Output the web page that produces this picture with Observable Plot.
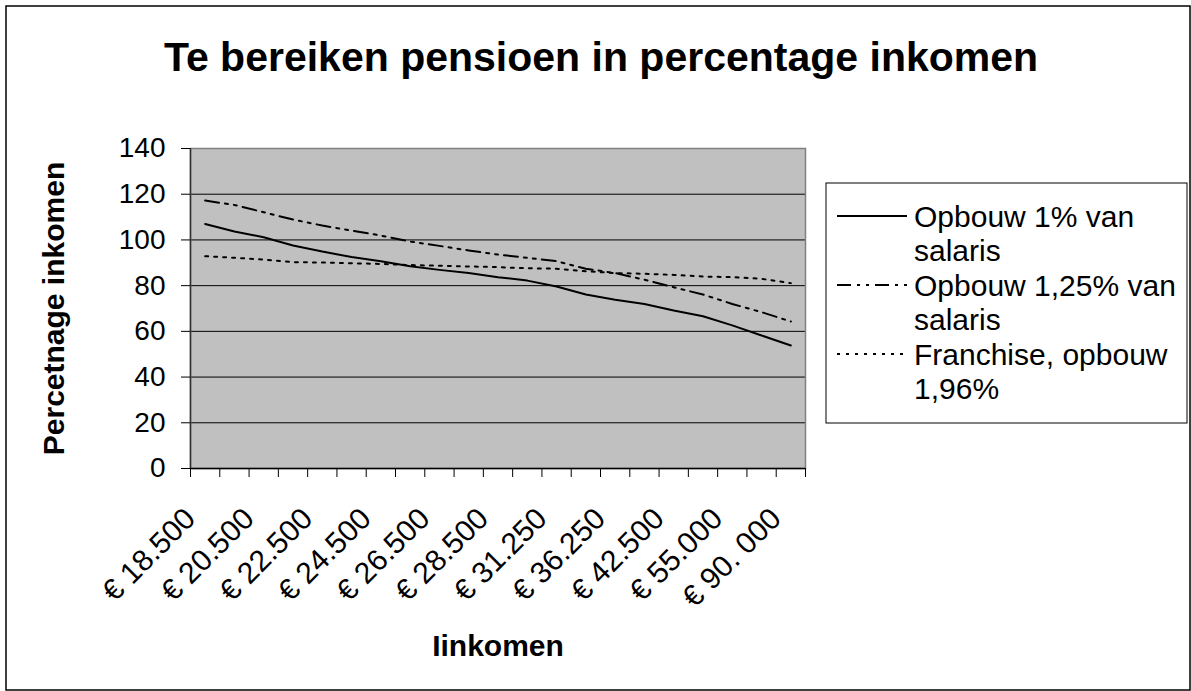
<!DOCTYPE html>
<html>
<head>
<meta charset="utf-8">
<script src="https://cdn.jsdelivr.net/npm/d3@7"></script>
<script src="https://cdn.jsdelivr.net/npm/@observablehq/plot@0.6"></script>
<style>
  html, body { margin: 0; padding: 0; background: #fff; }
  svg { display: block; }
</style>
</head>
<body>
<div id="chart"></div>
<script>
const categories = ["€ 18.500","€ 19.500","€ 20.500","€ 21.500","€ 22.500","€ 23.500","€ 24.500","€ 25.500","€ 26.500","€ 27.500","€ 28.500","€ 30.000","€ 31.250","€ 33.750","€ 36.250","€ 39.000","€ 42.500","€ 47.500","€ 55.000","€ 70.000","€ 90. 000"];
const opbouw1 = [107.0,103.7,101.2,97.6,94.9,92.5,90.7,88.5,86.9,85.5,83.7,82.2,79.6,76.1,73.8,72.0,69.1,66.6,62.6,58.2,53.8];
const opbouw125 = [117.2,115.3,112.1,108.9,106.3,104.1,101.9,99.3,97.4,95.4,93.6,92.2,90.7,87.4,85.5,82.6,79.3,76.1,72.0,68.4,64.3];
const franchise = [92.9,92.2,91.4,90.3,90.1,89.8,89.5,89.0,88.7,88.4,88.1,87.6,87.4,86.3,85.5,85.2,84.7,84.0,83.7,83.0,81.1];
const seriesNames = ["Opbouw 1% van salaris", "Opbouw 1,25% van salaris", "Franchise, opbouw 1,96%"];
const yTicks = [0,20,40,60,80,100,120,140];
const gridValues = [20,40,60,80,100,120];
const title = "Te bereiken pensioen in percentage inkomen";
const xTitle = "Iinkomen";
const yTitle = "Percetnage inkomen";

const font = "'Liberation Sans', Arial, Helvetica, sans-serif";
const idx = categories.map((_, i) => i);
const toRows = vals => vals.map((v, i) => ({i, v}));
const labelIdx = idx.filter(i => i % 2 === 0);
const boundaries = d3.range(0, categories.length + 1).map(k => k - 0.5);

const dashes = [null, "14,6,3,6,3,6", "3,6"];
const seriesData = [opbouw1, opbouw125, franchise];

const chart = Plot.plot({
  width: 1191,
  height: 691,
  marginLeft: 190,
  marginRight: 386,
  marginTop: 148,
  marginBottom: 223,
  style: {fontFamily: font, fontSize: "28px", color: "black", background: "white"},
  x: {domain: [-0.5, categories.length - 0.5], axis: null},
  y: {domain: [0, 140], axis: null},
  marks: [
    Plot.frame({fill: "#c0c0c0"}),
    Plot.ruleY(gridValues, {stroke: "black", strokeWidth: 1}),
    Plot.frame({stroke: "#808080", strokeWidth: 1.5}),
    ...seriesData.map((vals, k) => Plot.line(toRows(vals), {
      x: "i", y: "v", stroke: "black", strokeWidth: 2,
      strokeDasharray: dashes[k] || undefined, curve: "linear"
    })),
    Plot.ruleX([-0.5], {stroke: "#303030", strokeWidth: 1.5}),
    Plot.ruleY([0], {stroke: "black", strokeWidth: 1.5}),
    Plot.axisY({ticks: yTicks, tickSize: 9, tickPadding: 16, fontSize: 28, label: null, stroke: "black"}),
    Plot.axisX({ticks: boundaries, tickSize: 9, tickFormat: () => "", label: null, stroke: "black"}),
    Plot.text(labelIdx, {
      x: d => d, frameAnchor: "bottom", text: d => categories[d],
      rotate: -45, textAnchor: "end", lineAnchor: "bottom",
      dx: -8, dy: 52, fontSize: 30, fill: "black"
    }),
    Plot.text([xTitle], {frameAnchor: "bottom", text: d => d, lineAnchor: "bottom",
      dy: 187, fontSize: 30, fontWeight: "bold", fill: "black"}),
    Plot.text([yTitle], {frameAnchor: "left", text: d => d, rotate: -90,
      lineAnchor: "bottom", textAnchor: "middle", dx: -127, fontSize: 30, fontWeight: "bold", fill: "black"}),
    Plot.text([title], {frameAnchor: "top", text: d => d, lineAnchor: "bottom",
      dx: 103, dy: -78, fontSize: 41, fontWeight: "bold", fill: "black"})
  ]
});

document.getElementById("chart").appendChild(chart);

// Legend and outer border
const svg = d3.select(chart);
svg.append("rect").attr("x", 6).attr("y", 6).attr("width", 1184).attr("height", 684)
  .attr("fill", "none").attr("stroke", "black").attr("stroke-width", 1.5);

const lg = svg.append("g").attr("font-family", font).attr("font-size", 30).attr("text-anchor", "start");
lg.append("rect").attr("x", 826).attr("y", 183).attr("width", 361).attr("height", 240)
  .attr("fill", "white").attr("stroke", "black").attr("stroke-width", 1);
const legendLines = [["Opbouw 1% van", "salaris"], ["Opbouw 1,25% van", "salaris"], ["Franchise, opbouw", "1,96%"]];
const lineH = 34.5;
const firstCenter = 216;
legendLines.forEach((lines, k) => {
  const cy = firstCenter + k * 2 * lineH;
  const ln = lg.append("line").attr("x1", 837).attr("x2", 907).attr("y1", cy).attr("y2", cy)
    .attr("stroke", "black").attr("stroke-width", 2);
  if (dashes[k]) ln.attr("stroke-dasharray", dashes[k]);
  lines.forEach((t, j) => {
    lg.append("text").attr("x", 914).attr("y", cy + j * lineH).attr("dy", "0.35em")
      .attr("text-anchor", "start").attr("fill", "black").text(t);
  });
});
</script>
</body>
</html>
